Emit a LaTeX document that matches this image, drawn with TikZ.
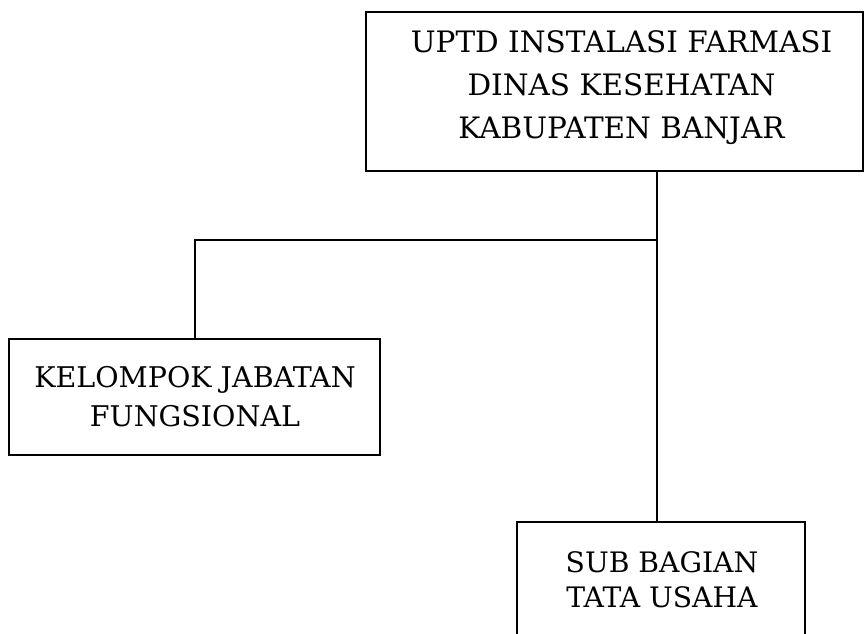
\documentclass[tikz,border=0pt]{standalone}
\usepackage{fontspec}
\setmainfont{DejaVu Serif}
\begin{document}
\begin{tikzpicture}[x=1pt,y=-1pt,
  box/.style={draw=black,line width=2pt,rectangle,inner sep=0pt},
  lbl/.style={align=center,inner sep=0pt,text depth=0pt},
  conn/.style={draw=black,line width=2pt}]
\useasboundingbox (0,0) rectangle (864,633);
\clip (0,0) rectangle (864,633);
\fill[white] (0,0) rectangle (864,633);
% boxes
\node[box,minimum width=497pt,minimum height=159pt] (top) at (614.5,91.5) {};
\node[box,minimum width=371pt,minimum height=116pt] (left) at (194.5,397) {};
\node[box,minimum width=288pt,minimum height=160pt] (sub) at (661,602) {};
% labels
\node[lbl,font=\fontsize{29.5}{43}\selectfont] (toptext) at (621.5,85) {UPTD INSTALASI FARMASI\\DINAS KESEHATAN\\KABUPATEN BANJAR};
\node[lbl,font=\fontsize{28.5}{39}\selectfont] (lefttext) at (195,396) {KELOMPOK JABATAN\\FUNGSIONAL};
\node[lbl,font=\fontsize{28.2}{35}\selectfont] (subtext) at (662,580) {SUB BAGIAN\\TATA USAHA};
% connectors
\coordinate (j) at (657,240);
\draw[conn] (top.south -| j) -- (sub.north -| j);
\draw[conn] (j) -| (left.north);
\end{tikzpicture}
\end{document}
